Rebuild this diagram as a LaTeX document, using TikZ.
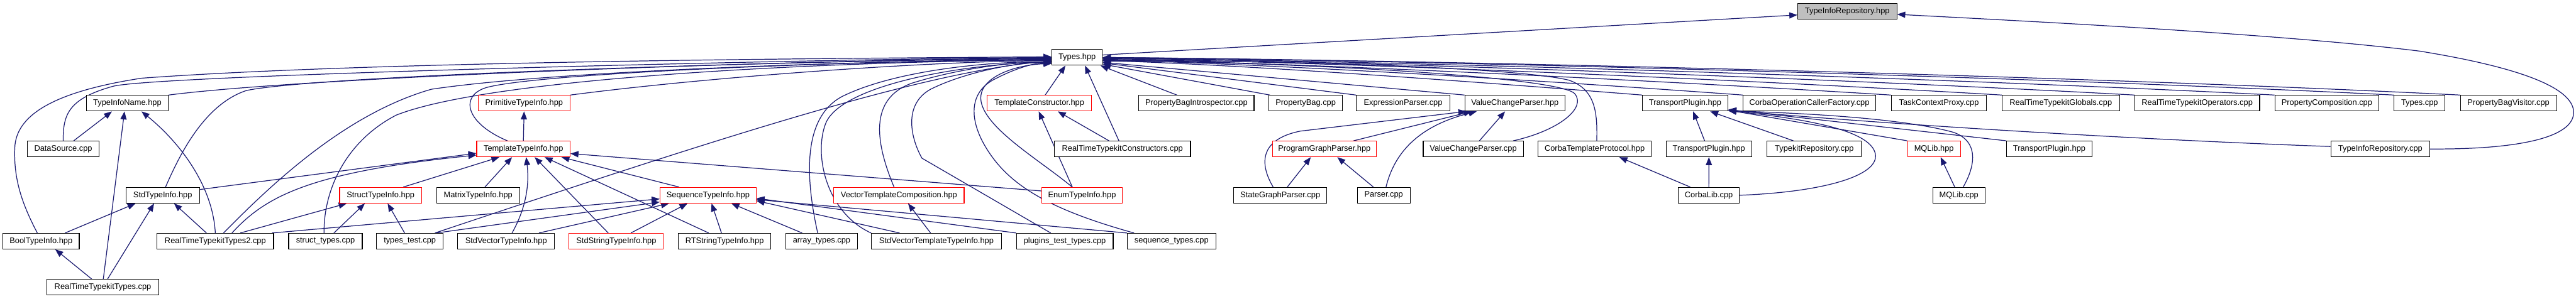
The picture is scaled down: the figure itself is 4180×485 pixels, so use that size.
\documentclass[tikz,border=0pt]{standalone}
\usepackage{fontspec}
\setmainfont{Liberation Sans}
\usetikzlibrary{arrows.meta}
\definecolor{edgec}{HTML}{191970}
\definecolor{boxgray}{HTML}{BFBFBF}
\pgfdeclarelayer{bg}
\pgfsetlayers{bg,main}
\begin{document}
\begin{tikzpicture}[x=1pt,y=-1pt,
  box/.style={draw=black,line width=1.1pt,fill=white,minimum height=25.5pt,inner sep=0pt,
    font=\fontsize{13.1}{15}\selectfont},
  redbox/.style={box,draw=red},
  conn/.style={draw=edgec,line width=1.25pt,-{Triangle[length=13pt,width=10pt]}}]
\useasboundingbox (0,0) rectangle (4180,485);
% row 1
\node[box,minimum width=161pt,fill=boxgray] (tirh) at (2997.5,18.3) {TypeInfoRepository.hpp};
% row 2
\node[box,minimum width=82pt] (types) at (1747.8,93.3) {Types.hpp};
% row 3
\node[box,minimum width=133pt] (tin) at (206.6,167.7) {TypeInfoName.hpp};
\node[redbox,minimum width=149pt] (prim) at (850.4,167.7) {PrimitiveTypeInfo.hpp};
\node[redbox,minimum width=169pt] (tcon) at (1686.5,167.7) {TemplateConstructor.hpp};
\node[box,minimum width=187pt] (pbi) at (1941.4,167.7) {PropertyBagIntrospector.cpp};
\node[box,minimum width=119pt] (pb) at (2118.7,167.7) {PropertyBag.cpp};
\node[box,minimum width=152pt] (ep) at (2276.8,167.7) {ExpressionParser.cpp};
\node[box,minimum width=162.5pt] (vcph) at (2458.2,167.7) {ValueChangeParser.hpp};
\node[box,minimum width=139pt] (tph) at (2734.4,167.7) {TransportPlugin.hpp};
\node[box,minimum width=215pt] (cocf) at (2936,167.7) {CorbaOperationCallerFactory.cpp};
\node[box,minimum width=155pt] (tcp) at (3146.2,167.7) {TaskContextProxy.cpp};
\node[box,minimum width=190.6pt] (rtg) at (3343.9,167.7) {RealTimeTypekitGlobals.cpp};
\node[box,minimum width=202.6pt] (rto) at (3565.3,167.7) {RealTimeTypekitOperators.cpp};
\node[box,minimum width=169pt] (pc) at (3775.8,167.7) {PropertyComposition.cpp};
\node[box,minimum width=82.6pt] (tcpp) at (3926.2,167.7) {Types.cpp};
\node[box,minimum width=156pt] (pbv) at (4070.4,167.7) {PropertyBagVisitor.cpp};
% row 4
\node[box,minimum width=116pt] (ds) at (102.6,242) {DataSource.cpp};
\node[redbox,minimum width=151.5pt] (tti) at (849.3,242) {TemplateTypeInfo.hpp};
\node[box,minimum width=221pt] (rtc) at (1821.3,242) {RealTimeTypekitConstructors.cpp};
\node[redbox,minimum width=168pt] (pgp) at (2149,242) {ProgramGraphParser.hpp};
\node[box,minimum width=162.5pt] (vcpc) at (2390.6,242) {ValueChangeParser.cpp};
\node[box,minimum width=183.7pt] (ctp) at (2587.6,242) {CorbaTemplateProtocol.hpp};
\node[box,minimum width=138.4pt] (tp2) at (2773,242) {TransportPlugin.hpp};
\node[box,minimum width=153pt] (tkr) at (2944,242) {TypekitRepository.cpp};
\node[redbox,minimum width=85.8pt] (mqh) at (3138.2,242) {MQLib.hpp};
\node[box,minimum width=138.6pt] (tp3) at (3325.3,242) {TransportPlugin.hpp};
\node[box,minimum width=160.7pt] (tirc) at (3862.5,242) {TypeInfoRepository.cpp};
% row 5
\node[box,minimum width=119.4pt] (sti) at (264,317.2) {StdTypeInfo.hpp};
\node[redbox,minimum width=133pt] (stri) at (617.6,317.2) {StructTypeInfo.hpp};
\node[box,minimum width=135pt] (mti) at (775.8,317.2) {MatrixTypeInfo.hpp};
\node[redbox,minimum width=156pt] (seq) at (1149,317.2) {SequenceTypeInfo.hpp};
\node[redbox,minimum width=211.4pt] (vtc) at (1458.7,317.2) {VectorTemplateComposition.hpp};
\node[redbox,minimum width=131.3pt] (eti) at (1755.8,317.2) {EnumTypeInfo.hpp};
\node[box,minimum width=150.8pt] (sgp) at (2077.4,317.2) {StateGraphParser.cpp};
\node[box,minimum width=86pt] (par) at (2245.3,317.2) {Parser.cpp};
\node[box,minimum width=98.4pt] (clib) at (2772.8,317.2) {CorbaLib.cpp};
\node[box,minimum width=85pt] (mqc) at (3178.6,317.2) {MQLib.cpp};
% row 6
\node[box,minimum width=124pt] (bti) at (66.6,391.8) {BoolTypeInfo.hpp};
\node[box,minimum width=189pt] (rtt2) at (349.4,391.8) {RealTimeTypekitTypes2.cpp};
\node[box,minimum width=119.4pt] (stc) at (528.1,391.8) {struct\_types.cpp};
\node[box,minimum width=108.6pt] (tt) at (665,391.8) {types\_test.cpp};
\node[box,minimum width=157pt] (svti) at (821.2,391.8) {StdVectorTypeInfo.hpp};
\node[redbox,minimum width=153pt] (ssti) at (1000,391.8) {StdStringTypeInfo.hpp};
\node[box,minimum width=150.6pt] (rtsti) at (1175.7,391.8) {RTStringTypeInfo.hpp};
\node[box,minimum width=115.8pt] (arrt) at (1333.2,391.8) {array\_types.cpp};
\node[box,minimum width=211pt] (svtti) at (1519.5,391.8) {StdVectorTemplateTypeInfo.hpp};
\node[box,minimum width=157pt] (ptt) at (1727.8,391.8) {plugins\_test\_types.cpp};
\node[box,minimum width=143.7pt] (st) at (1901,391.8) {sequence\_types.cpp};
% row 7
\node[box,minimum width=182pt] (rtt) at (166.9,466.7) {RealTimeTypekitTypes.cpp};

\begin{pgfonlayer}{bg}
\fill[white] (0,0) rectangle (4180,485);
% --- edges to TypeInfoRepository.hpp
\draw[conn] ([yshift=4pt]types.east) -- ([yshift=-6pt]tirh.west);
\draw[conn] (tirc.east) .. controls (4080,243) and (4180,225) .. (4176,180) .. controls (4172,140) and (4080,108) .. (3926,83) .. controls (3700,55) and (3300,35) .. ([yshift=-5pt]tirh.east);
% --- edges to Types.hpp from the left
\draw[conn] ([xshift=-6pt]bti.north) .. controls (35,330) and (22,290) .. (24,240) .. controls (26,190) and (80,150) .. (230,127) .. controls (600,100) and (1300,95) .. ([yshift=1pt]types.west);
\draw[conn] (ds.north) .. controls (102,185) and (112,160) .. (184,140) .. controls (260,122) and (1300,96) .. (types.west);
\draw[conn] (tin.north east) .. controls (500,125) and (1300,97) .. ([yshift=-1pt]types.west);
\draw[conn] ([xshift=4.6pt]sti.north) .. controls (290,255) and (330,170) .. (400,147) .. controls (520,122) and (1300,98) .. ([yshift=-2pt]types.west);
\draw[conn] ([xshift=13.3pt]rtt2.north) .. controls (440,300) and (560,185) .. (700,145) .. controls (900,115) and (1400,99) .. ([yshift=-3pt]types.west);
\draw[conn] ([xshift=-2.3pt]stc.north) .. controls (525,310) and (560,230) .. (643,187) .. controls (800,125) and (1350,100) .. ([yshift=-4pt]types.west);
\draw[conn] ([xshift=-26pt]tti.north) .. controls (755,200) and (745,155) .. (790,142) .. controls (880,118) and (1400,98) .. ([yshift=-4pt]types.west);
\draw[conn] (prim.north east) .. controls (1150,125) and (1500,100) .. ([yshift=-5pt]types.west);
\draw[conn] ([xshift=-14pt]tt.north east) .. controls (1150,230) and (1500,115) .. ([yshift=-6pt]types.west);
\draw[conn] ([xshift=-6.4pt]arrt.north) .. controls (1305,280) and (1305,190) .. (1366,157) .. controls (1450,115) and (1600,100) .. ([yshift=-7pt]types.west);
\draw[conn] (svtti.north west) .. controls (1340,345) and (1320,250) .. (1340,200) .. controls (1365,140) and (1550,105) .. ([yshift=-7pt]types.west);
\draw[conn] ([xshift=-8pt]vtc.north) .. controls (1420,230) and (1410,160) .. (1480,135) .. controls (1560,110) and (1650,100) .. ([yshift=-8pt]types.west);
\draw[conn] ([xshift=-22.8pt]ptt.north) -- (1496,257) .. controls (1478,225) and (1465,170) .. (1510,145) .. controls (1570,115) and (1660,100) .. ([yshift=-9pt]types.west);
\draw[conn] ([xshift=11.5pt]st.north west) .. controls (1720,345) and (1650,310) .. (1610,255) .. controls (1570,200) and (1570,150) .. (1615,128) .. controls (1650,110) and (1680,102) .. ([yshift=-9pt]types.west);
\draw[conn] ([xshift=-16pt]eti.north) .. controls (1690,262) and (1600,210) .. (1592,165) .. controls (1585,125) and (1650,105) .. ([yshift=-10pt]types.west);
% --- edges to Types.hpp from below
\draw[conn] ([xshift=9.5pt]tcon.north) -- ([xshift=-19pt]types.south);
\draw[conn] ([xshift=-5.7pt]rtc.north) -- ([xshift=12.7pt]types.south);
\draw[conn] ([xshift=-31.7pt]pbi.north) -- ([xshift=38pt]types.south);
% --- edges to Types.hpp from the right
\draw[conn] ([xshift=2pt]pb.north west) -- ([yshift=-11pt]types.east);
\draw[conn] (ep.north west) -- ([yshift=-9pt]types.east);
\draw[conn] (vcph.north west) -- ([yshift=-8pt]types.east);
\draw[conn] ([xshift=65pt]vcpc.north) .. controls (2530,212) and (2575,175) .. (2555,152) .. controls (2530,125) and (2100,100) .. ([yshift=-6pt]types.east);
\draw[conn] ([xshift=3.4pt]ctp.north) .. controls (2592,185) and (2590,145) .. (2545,130) .. controls (2450,108) and (2050,98) .. ([yshift=-5pt]types.east);
\draw[conn] (tph.north west) .. controls +(-250,-20) and +(250,8) .. ([yshift=-5pt]types.east);
\draw[conn] (cocf.north west) .. controls +(-300,-22) and +(300,8) .. ([yshift=-4pt]types.east);
\draw[conn] (tcp.north west) .. controls +(-350,-22) and +(350,7) .. ([yshift=-3pt]types.east);
\draw[conn] (rtg.north west) .. controls +(-400,-24) and +(400,6) .. ([yshift=-2pt]types.east);
\draw[conn] (rto.north west) .. controls +(-450,-25) and +(450,6) .. ([yshift=-1pt]types.east);
\draw[conn] (pc.north west) .. controls +(-500,-26) and +(500,5) .. ([yshift=-1pt]types.east);
\draw[conn] (tcpp.north west) .. controls +(-550,-28) and +(550,5) .. (types.east);
\draw[conn] (pbv.north west) .. controls +(-600,-30) and +(600,5) .. (types.east);
% --- left cluster
\draw[conn] (tti.north) -- (prim.south);
\draw[conn] ([xshift=0.7pt]rtt.north) -- ([xshift=-4.6pt]tin.south);
\draw[conn] ([xshift=-18pt]rtt.north) -- ([xshift=23pt]bti.south);
\draw[conn] ([xshift=7.6pt]rtt.north) -- ([xshift=-14pt]sti.south);
\draw[conn] ([xshift=39pt]bti.north) -- ([xshift=-44pt]sti.south);
\draw[conn] ([xshift=17pt]ds.north) -- ([xshift=-25pt]tin.south);
\draw[conn] (rtt2.north) .. controls (345,300) and (290,230) .. ([xshift=23pt]tin.south);
\draw[conn] ([xshift=-14.4pt]rtt2.north) -- ([xshift=18.4pt]sti.south);
\draw[conn] ([yshift=-4pt]sti.north east) -- ([yshift=-7pt]tti.west);
\draw[conn] ([xshift=27pt]rtt2.north) .. controls (430,320) and (500,280) .. ([yshift=-10pt]tti.west);
\draw[conn] ([xshift=36.7pt]stri.north) -- ([xshift=-39pt]tti.south);
\draw[conn] ([xshift=11pt]mti.north) -- ([xshift=-18.4pt]tti.south);
\draw[conn] ([xshift=9.7pt]svti.north) .. controls (858,330) and (858,290) .. ([xshift=4.5pt]tti.south);
\draw[conn] ([xshift=-13pt]ssti.north) -- ([xshift=18.3pt]tti.south);
\draw[conn] ([xshift=-25.7pt]rtsti.north) -- ([xshift=34.4pt]tti.south);
\draw[conn] ([xshift=-47pt]seq.north) -- ([xshift=61.7pt]tti.south);
\draw[conn] ([yshift=7pt]eti.west) -- ([yshift=-7.5pt]tti.east);
\draw[conn] ([xshift=13.7pt]stc.north) -- ([xshift=-25.6pt]stri.south);
\draw[conn] ([xshift=-8.4pt]tt.north) -- ([xshift=11.4pt]stri.south);
\draw[conn] ([xshift=40.6pt]rtt2.north) -- ([xshift=-55pt]stri.south);
\draw[conn] ([xshift=-3pt]rtt2.north east) -- ([yshift=-6pt]seq.west);
\draw[conn] ([xshift=-12pt]tt.north east) -- ([yshift=-11pt]seq.west);
\draw[conn] ([xshift=53.3pt]svti.north) -- ([xshift=-63.3pt]seq.south);
\draw[conn] ([xshift=23.7pt]ssti.north) -- ([xshift=-33.4pt]seq.south);
\draw[conn] ([xshift=-5pt]rtsti.north) -- ([xshift=5.6pt]seq.south);
\draw[conn] ([xshift=-31.6pt]arrt.north) -- ([xshift=37.7pt]seq.south);
\draw[conn] ([xshift=-59.8pt]svtti.north) -- ([yshift=-9pt]seq.east);
\draw[conn] (ptt.north west) -- ([yshift=-5pt]seq.east);
\draw[conn] (st.north west) -- ([yshift=-7pt]seq.east);
\draw[conn] ([xshift=-9.5pt]svtti.north) -- ([xshift=14.8pt]vtc.south);
\draw[conn] ([xshift=-15.8pt]eti.north) -- ([xshift=-1pt]tcon.south);
\draw[conn] ([xshift=-21.8pt]rtc.north) -- ([xshift=30pt]tcon.south);
% --- parser cluster
\draw[conn] ([xshift=-11.5pt]sgp.north) .. controls (2040,260) and (2050,225) .. (2110,213) -- ([xshift=3pt]vcph.south west);
\draw[conn] ([xshift=11.4pt]sgp.north) -- ([xshift=-22pt]pgp.south);
\draw[conn] ([xshift=-16.7pt]par.north) -- ([xshift=21pt]pgp.south);
\draw[conn] ([xshift=3.7pt]par.north) .. controls (2262,250) and (2300,205) .. ([xshift=-62pt]vcph.south);
\draw[conn] ([xshift=47.4pt]pgp.north) -- ([xshift=-70pt]vcph.south);
\draw[conn] ([xshift=10pt]vcpc.north) -- ([xshift=-16pt]vcph.south);
% --- transport cluster
\draw[conn] ([xshift=-30pt]clib.north) -- ([xshift=40pt]ctp.south);
\draw[conn] (clib.north) -- (tp2.south);
\draw[conn] (clib.east) .. controls (2960,312) and (3050,285) .. (3043,250) .. controls (3036,215) and (2950,195) .. ([yshift=1pt]tph.south east);
\draw[conn] ([xshift=-7pt]tp2.north) -- ([xshift=13pt]tph.south);
\draw[conn] ([xshift=-34pt]tkr.north) -- ([xshift=40.6pt]tph.south);
\draw[conn] (mqh.north west) -- ([yshift=2pt]tph.south east);
\draw[conn] ([xshift=-6.7pt]mqc.north) -- ([xshift=10.8pt]mqh.south);
\draw[conn] ([xshift=7pt]mqc.north) .. controls (3205,270) and (3212,230) .. (3170,215) .. controls (3080,190) and (2900,183) .. ([yshift=1pt]tph.south east);
\draw[conn] (tp3.north west) -- ([yshift=3pt]tph.south east);
\draw[conn] ([yshift=4pt]tirc.west) .. controls (3500,228) and (3100,205) .. ([yshift=2pt]tph.south east);
\end{pgfonlayer}
\end{tikzpicture}
\end{document}
